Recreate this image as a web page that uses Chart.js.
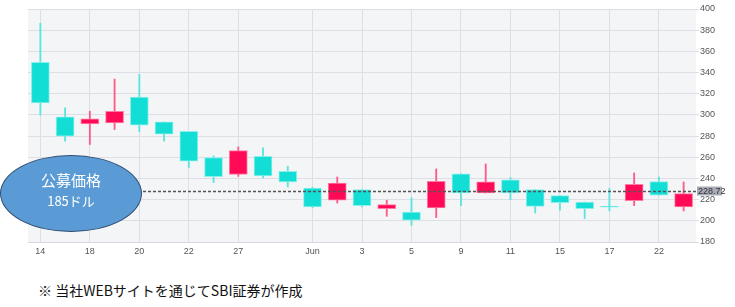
<!DOCTYPE html>
<html>
<head>
<meta charset="utf-8">
<script src="https://cdn.jsdelivr.net/npm/chart.js@4.4.1/dist/chart.umd.min.js"></script>
<style>
  html, body { margin: 0; padding: 0; background: #fff; }
  #wrap { position: relative; width: 735px; height: 307px; overflow: hidden; }
  #box { position: absolute; left: 0; top: 0; width: 735px; height: 262px; }
  #ipo {
    position: absolute; left: 0; top: 155px; width: 140px; height: 75px;
    border-radius: 50%; background: #5b9bd5; border: 1px solid #2f4f75;
    color: #fff; text-align: center; font-family: "Noto Sans CJK JP", sans-serif;
  }
  #ipo .a { position: absolute; left: 0; right: 0; top: 15px; font-size: 15px; line-height: 18px; }
  #ipo .b { position: absolute; left: 0; right: 0; top: 37px; font-size: 13px; line-height: 16px; }
  #note {
    position: absolute; left: 38px; top: 280px; font-size: 14px; color: #111;
    font-family: "Noto Sans CJK JP", sans-serif; white-space: nowrap;
  }
</style>
</head>
<body>
<div id="wrap">
  <div id="box"><canvas id="candleChart"></canvas></div>
  <div id="ipo"><div class="a">公募価格</div><div class="b">185ドル</div></div>
  <div id="note">※ 当社WEBサイトを通じてSBI証券が作成</div>
</div>
<script>
const dateLabels = ['14', '', '18', '', '20', '', '22', '', '27', '', '', 'Jun', '', '3',
  '', '5', '', '9', '', '11', '', '15', '', '17', '', '22', ''];
const opens  = [349.6, 298.2, 291.5, 292.5, 316.8, 293.4, 284.4, 259.8, 243.7, 261.0, 246.8, 231.0, 219.4, 229.5,
  211.5, 208.3, 212.1, 244.3, 226.3, 238.6, 229.5, 223.8, 217.8, 213.7, 219.1, 237.0, 213.1];
const highs  = [386.5, 306.7, 303.5, 333.8, 338.3, 293.4, 284.4, 261.3, 269.8, 268.8, 251.5, 231.7, 241.4, 229.5,
  219.4, 221.9, 249.0, 244.3, 253.7, 240.9, 229.5, 223.8, 217.8, 230.5, 245.2, 241.4, 236.7];
const lows   = [299.8, 275.2, 272.1, 286.2, 284.0, 275.2, 250.3, 236.1, 242.0, 240.5, 232.0, 212.5, 216.8, 213.1,
  204.3, 195.7, 203.0, 214.4, 226.3, 220.0, 207.4, 209.9, 202.1, 209.3, 214.4, 224.1, 209.3];
const closes = [311.4, 279.9, 296.3, 303.3, 290.3, 281.8, 256.3, 241.8, 266.4, 242.4, 236.7, 213.1, 235.7, 214.4,
  215.3, 200.5, 237.4, 226.3, 236.7, 226.3, 213.7, 217.2, 211.5, 212.8, 234.5, 224.1, 225.7];
const lastPrice = 228.72;
const priceTicks = [180, 200, 220, 240, 260, 280, 300, 320, 340, 360, 380, 400];

const upFill = '#ff0a57', upEdge = '#ff7ba1', upWick = '#ff5a8a';
const downFill = '#12ded6', downEdge = '#8cefea', downWick = '#5fe3dd';
const isUp = closes.map((c, i) => c >= opens[i]);

const plotBg = {
  id: 'plotBg',
  beforeDraw(chart) {
    const a = chart.chartArea, ctx = chart.ctx;
    ctx.save();
    ctx.fillStyle = '#f4f5f7';
    ctx.fillRect(a.left, a.top, a.right - a.left, a.bottom - a.top);
    ctx.restore();
  }
};

// dotted last-price line plus the grey price tag on the right axis
const priceLine = {
  id: 'priceLine',
  afterDatasetsDraw(chart) {
    const a = chart.chartArea, ctx = chart.ctx;
    const y = Math.round(chart.scales.y.getPixelForValue(lastPrice)) + 1.5;
    ctx.save();
    ctx.strokeStyle = '#555';
    ctx.lineWidth = 1.3;
    ctx.setLineDash([3, 2]);
    ctx.beginPath();
    ctx.moveTo(a.left, y);
    ctx.lineTo(a.right, y);
    ctx.stroke();
    ctx.setLineDash([]);
    ctx.fillStyle = '#a9aab8';
    ctx.fillRect(a.right + 1, y - 5, 25, 9);
    ctx.fillStyle = '#333';
    ctx.font = '9px "Liberation Sans", Arial, sans-serif';
    ctx.textBaseline = 'middle';
    ctx.fillText(lastPrice.toFixed(2), a.right + 2, y);
    ctx.restore();
  }
};

new Chart(document.getElementById('candleChart'), {
  type: 'bar',
  data: {
    labels: dateLabels,
    datasets: [{
      label: 'wick',
      data: lows.map((l, i) => [l, highs[i]]),
      backgroundColor: isUp.map(u => u ? upWick : downWick),
      barThickness: 1.2,
      grouped: false,
      order: 2
    }, {
      label: 'body',
      data: opens.map((o, i) => [o, closes[i]]),
      backgroundColor: isUp.map(u => u ? upFill : downFill),
      borderColor: isUp.map(u => u ? upEdge : downEdge),
      borderWidth: 1,
      borderSkipped: false,
      barThickness: 18,
      grouped: false,
      order: 1
    }]
  },
  options: {
    responsive: true,
    maintainAspectRatio: false,
    animation: false,
    layout: { padding: { left: 28, top: 9, right: 0, bottom: 0 } },
    plugins: { legend: { display: false }, tooltip: { enabled: false } },
    scales: {
      x: {
        offset: true,
        grid: {
          offset: false,
          drawTicks: false,
          color: ctx => (dateLabels[ctx.index] ? '#dedfe6' : 'rgba(0,0,0,0)')
        },
        border: { color: '#d5d6de' },
        ticks: {
          autoSkip: false,
          maxRotation: 0,
          padding: 4,
          color: '#555',
          font: { size: 9, family: '"Liberation Sans", Arial, sans-serif' },
          callback: (v, i) => dateLabels[i]
        },
        afterFit: s => { s.height = 20; }
      },
      y: {
        position: 'right',
        min: 180,
        max: 400,
        afterBuildTicks: s => { s.ticks = priceTicks.map(v => ({ value: v })); },
        grid: { color: '#dedfe6', tickLength: 3 },
        border: { display: false },
        ticks: {
          padding: 1,
          color: '#555',
          font: { size: 9, family: '"Liberation Sans", Arial, sans-serif' }
        },
        afterFit: s => { s.width = 39; }
      }
    }
  },
  plugins: [plotBg, priceLine]
});
</script>
</body>
</html>
